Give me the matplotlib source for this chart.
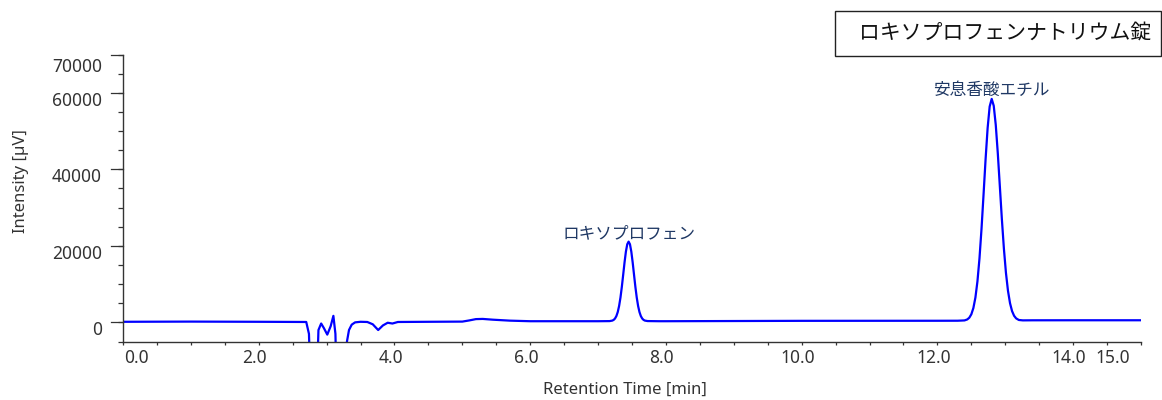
# ---------------------------
# Chromatogram: loxoprofen sodium tablet
# ---------------------------
import matplotlib
matplotlib.use("Agg")
import matplotlib.pyplot as plt
import matplotlib.patches as patches
from matplotlib.ticker import MultipleLocator

plt.rcParams["font.family"] = ["Noto Sans", "Noto Sans CJK JP", "DejaVu Sans"]

# ---------------------------
# Data (min, µV)
# ---------------------------
rt_min = [
    0.00, 1.00, 2.00, 2.70, 2.74, 2.78, 2.84, 2.88, 2.92, 2.96,
    3.01, 3.06, 3.10, 3.13, 3.16, 3.26, 3.30, 3.33, 3.37, 3.42,
    3.50, 3.60, 3.68, 3.76, 3.83, 3.90, 3.97, 4.05, 4.50, 5.00,
    5.10, 5.20, 5.30, 5.45, 5.70, 6.00, 7.00, 7.17, 7.21, 7.23,
    7.25, 7.27, 7.29, 7.31, 7.33, 7.35, 7.37, 7.39, 7.41, 7.43,
    7.45, 7.47, 7.49, 7.51, 7.53, 7.55, 7.57, 7.59, 7.61, 7.63,
    7.65, 7.67, 7.69, 7.73, 7.90, 8.00, 10.00, 12.00, 12.30, 12.40,
    12.44, 12.47, 12.50, 12.53, 12.56, 12.59, 12.62, 12.65, 12.68, 12.71,
    12.74, 12.77, 12.80, 12.83, 12.86, 12.89, 12.92, 12.95, 12.98, 13.01,
    13.04, 13.07, 13.10, 13.13, 13.16, 13.20, 13.26, 13.40, 14.00, 15.00,
]
intensity_uv = [
    150, 200, 150, 100, -3000, -25000, -25000, -2000, -300, -1500,
    -3200, -1000, 1700, -3000, -25000, -25000, -5000, -2000, -600, 0,
    150, 100, -500, -2000, -800, -100, -300, 100, 150, 200,
    500, 850, 900, 700, 450, 300, 300, 330, 462, 651,
    1013, 1654, 2700, 4283, 6475, 9250, 12424, 15655, 18475, 20410,
    21100, 20410, 18475, 15655, 12424, 9250, 6475, 4283, 2700, 1654,
    1013, 651, 462, 340, 300, 300, 400, 420, 430, 510,
    763, 1215, 2111, 3741, 6478, 10712, 16710, 24435, 33410, 42640,
    50770, 56390, 58400, 56610, 51585, 44180, 35580, 26950, 19230, 12945,
    8250, 5017, 2946, 1722, 1044, 624, 520, 540, 550, 550,
]

peak_names = ["ロキソプロフェン", "安息香酸エチル"]
peak_times = [7.45, 12.80]

title_text = "ロキソプロフェンナトリウム錠"

x_tick_vals = [0, 2, 4, 6, 8, 10, 12, 14, 15]
y_tick_vals = [0, 20000, 40000, 60000, 70000]

# ---------------------------
# Figure
# ---------------------------
W, H = 1162, 400
fig = plt.figure(figsize=(W / 100, H / 100), dpi=100)
ax = fig.add_axes([123 / W, 1 - 341.5 / H, (1141 - 123) / W, (341.5 - 54.5) / H])

axis_col = "#333333"
ax.plot(rt_min, intensity_uv, color="#0000ff", lw=1.6)

ax.set_xlim(0, 15)
ax.set_ylim(-5000, 70000)
for s in ["top", "right"]:
    ax.spines[s].set_visible(False)
for s in ["left", "bottom"]:
    ax.spines[s].set_color(axis_col)
    ax.spines[s].set_linewidth(1.0)

# ticks without default labels; labels drawn below with offsets
ax.xaxis.set_major_locator(MultipleLocator(0.5))
ax.yaxis.set_major_locator(MultipleLocator(5000))
ax.set_xticklabels([])
ax.set_yticklabels([])
ax.tick_params(axis="x", length=2.5, color=axis_col, width=0.9)
ax.tick_params(axis="y", length=3.6, color=axis_col, width=0.9)
# longer y ticks at labelled values
for v in y_tick_vals:
    ax.plot([-0.012, 0], [v, v], transform=ax.get_yaxis_transform(),
            color=axis_col, lw=0.9, clip_on=False)

x_offsets = {0: 13, 15: -28}
for v in x_tick_vals:
    ax.annotate(f"{v:.1f}", xy=(v, 0), xycoords=("data", "axes fraction"),
                xytext=(x_offsets.get(v, -4) * 0.72, -16.5 * 0.72), textcoords="offset points",
                ha="center", va="center", fontsize=12.5, color=axis_col)

for v in y_tick_vals:
    dy = -12 if v == 70000 else -8
    ax.annotate(f"{v}", xy=(0, v), xycoords=("axes fraction", "data"),
                xytext=(-21 * 0.72, dy * 0.72), textcoords="offset points",
                ha="right", va="center", fontsize=12.5, color=axis_col)

fig.text(625 / W, 1 - 390 / H, "Retention Time [min]", ha="center", va="center",
         fontsize=12, color=axis_col)
fig.text(21 / W, 1 - 181 / H, "Intensity [µV]", ha="center", va="center",
         rotation=90, fontsize=12, color=axis_col)

# peak labels just above each apex
for name, t in zip(peak_names, peak_times):
    i = rt_min.index(t)
    ax.annotate(name, xy=(t, intensity_uv[i]), xytext=(0, 8 * 0.72), textcoords="offset points",
                ha="center", va="center", fontsize=12, color="#1f3864",
                family=["Noto Sans CJK JP", "DejaVu Sans"])

# title box, top right
fig.patches.append(patches.Rectangle((835 / W, 1 - 56 / H), (1161 - 835) / W, 45 / H,
                                     transform=fig.transFigure, facecolor="white",
                                     edgecolor="#222222", lw=1.0))
fig.text(1005 / W, 1 - 33 / H, title_text, ha="center", va="center", fontsize=15,
         color="#111111", family=["Noto Sans CJK JP", "DejaVu Sans"])

fig.savefig("out.png", dpi=100)
